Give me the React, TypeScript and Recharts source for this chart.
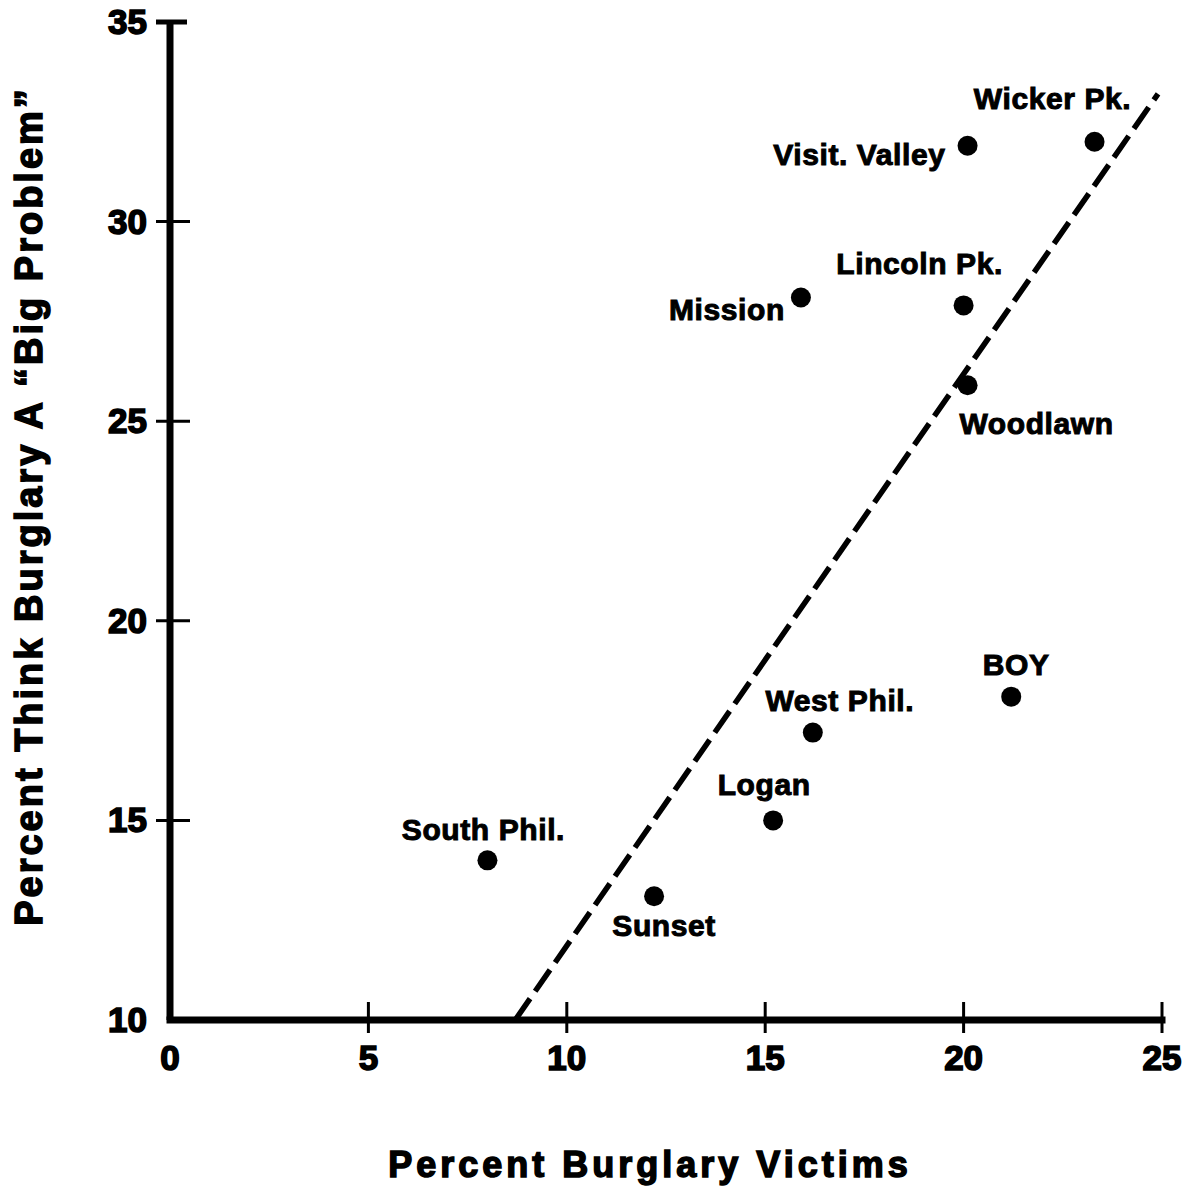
import { ScatterChart, Scatter, XAxis, YAxis, ReferenceLine } from 'recharts'

// neighbourhood survey values
const NAMES = ['Wicker Pk.', 'Visit. Valley', 'Mission', 'Lincoln Pk.', 'Woodlawn', 'BOY', 'West Phil.', 'Logan', 'South Phil.', 'Sunset']
const VICTIMS = [23.3, 20.1, 15.9, 20.0, 20.1, 21.2, 16.2, 15.2, 8.0, 12.2]
const BIG_PROBLEM = [32.0, 31.9, 28.1, 27.9, 25.9, 18.1, 17.2, 15.0, 14.0, 13.1]

const X_TICKS = [0, 5, 10, 15, 20, 25]
const Y_TICKS = [10, 15, 20, 25, 30, 35]

// fitted line end points
const TREND_X = [8.7, 24.9]
const TREND_Y = [10, 33.2]

const FONT = '"Liberation Sans", Arial, Helvetica, sans-serif'

// where each name sits relative to its dot (px)
const LABEL_POS: Record<string, { dx: number; dy: number; anchor: 'start' | 'middle' | 'end' }> = {
  'Wicker Pk.': { dx: -42, dy: -44, anchor: 'middle' },
  'Visit. Valley': { dx: -22, dy: 8, anchor: 'end' },
  'Mission': { dx: -16, dy: 12, anchor: 'end' },
  'Lincoln Pk.': { dx: -44, dy: -42, anchor: 'middle' },
  'Woodlawn': { dx: 69, dy: 38, anchor: 'middle' },
  'BOY': { dx: 5, dy: -33, anchor: 'middle' },
  'West Phil.': { dx: 27, dy: -33, anchor: 'middle' },
  'Logan': { dx: -9, dy: -36, anchor: 'middle' },
  'South Phil.': { dx: -4, dy: -31, anchor: 'middle' },
  'Sunset': { dx: 10, dy: 29, anchor: 'middle' },
}

const points = NAMES.map((name, i) => ({ name, x: VICTIMS[i], y: BIG_PROBLEM[i] }))

function Dot(props: any) {
  const { cx, cy, payload } = props
  const pos = LABEL_POS[payload.name] ?? { dx: 0, dy: -30, anchor: 'middle' }
  return (
    <g>
      <circle cx={cx} cy={cy} r={10} fill="#000" />
      <text
        x={cx + pos.dx}
        y={cy + pos.dy + 11}
        textAnchor={pos.anchor}
        fontFamily={FONT}
        fontWeight="bold"
        fontSize={30}
        letterSpacing={0.6}
        fill="#000"
        stroke="#000"
        strokeWidth={1}
      >
        {payload.name}
      </text>
    </g>
  )
}

function XTick({ x, y, payload }: any) {
  return (
    <g>
      {payload.value !== 0 && (
        <line x1={x} x2={x} y1={y - 18} y2={y + 13} stroke="#000" strokeWidth={3} />
      )}
      <text x={x} y={y + 50} textAnchor="middle" fontFamily={FONT} fontWeight="bold" fontSize={35}
        fill="#000" stroke="#000" strokeWidth={1.6}>
        {payload.value}
      </text>
    </g>
  )
}

function YTick({ x, y, payload }: any) {
  const top = payload.value === 35
  return (
    <g>
      {payload.value !== 10 && (
        <line x1={x - 14} x2={x + (top ? 17 : 20)} y1={y} y2={y} stroke="#000" strokeWidth={top ? 5 : 3} />
      )}
      <text x={x - 23} y={y + 12} textAnchor="end" fontFamily={FONT} fontWeight="bold" fontSize={35}
        fill="#000" stroke="#000" strokeWidth={1.6}>
        {payload.value}
      </text>
    </g>
  )
}

export default function App() {
  return (
    <div style={{ position: 'absolute', left: 0, top: 0, background: '#fff' }}>
      <ScatterChart width={1188} height={1190} margin={{ top: 22, right: 26, bottom: 110, left: 100 }}>
        <XAxis
          type="number"
          dataKey="x"
          domain={[0, 25]}
          ticks={X_TICKS}
          interval={0}
          height={60}
          tickSize={0}
          tickMargin={0}
          tickLine={false}
          axisLine={{ stroke: '#000', strokeWidth: 7, strokeLinecap: 'square' }}
          tick={<XTick />}
          label={{
            content: () => (
              <text x={650} y={1177} textAnchor="middle" fontFamily={FONT} fontWeight="bold" fontSize={36}
                letterSpacing={4} fill="#000" stroke="#000" strokeWidth={1.5}>
                Percent Burglary Victims
              </text>
            ),
          }}
        />
        <YAxis
          type="number"
          dataKey="y"
          domain={[10, 35]}
          ticks={Y_TICKS}
          interval={0}
          width={70}
          tickSize={0}
          tickMargin={0}
          tickLine={false}
          axisLine={{ stroke: '#000', strokeWidth: 7 }}
          tick={<YTick />}
          label={{
            content: () => (
              <text x={42} y={506} transform="rotate(-90 42 506)" textAnchor="middle" fontFamily={FONT}
                fontWeight="bold" fontSize={38} letterSpacing={3} fill="#000" stroke="#000" strokeWidth={1.5}>
                Percent Think Burglary A “Big Problem”
              </text>
            ),
          }}
        />
        <ReferenceLine
          segment={[{ x: TREND_X[0], y: TREND_Y[0] }, { x: TREND_X[1], y: TREND_Y[1] }]}
          stroke="#000"
          strokeWidth={5.5}
          strokeDasharray="26 9"
        />
        <Scatter data={points} shape={<Dot />} isAnimationActive={false} />
      </ScatterChart>
    </div>
  )
}
